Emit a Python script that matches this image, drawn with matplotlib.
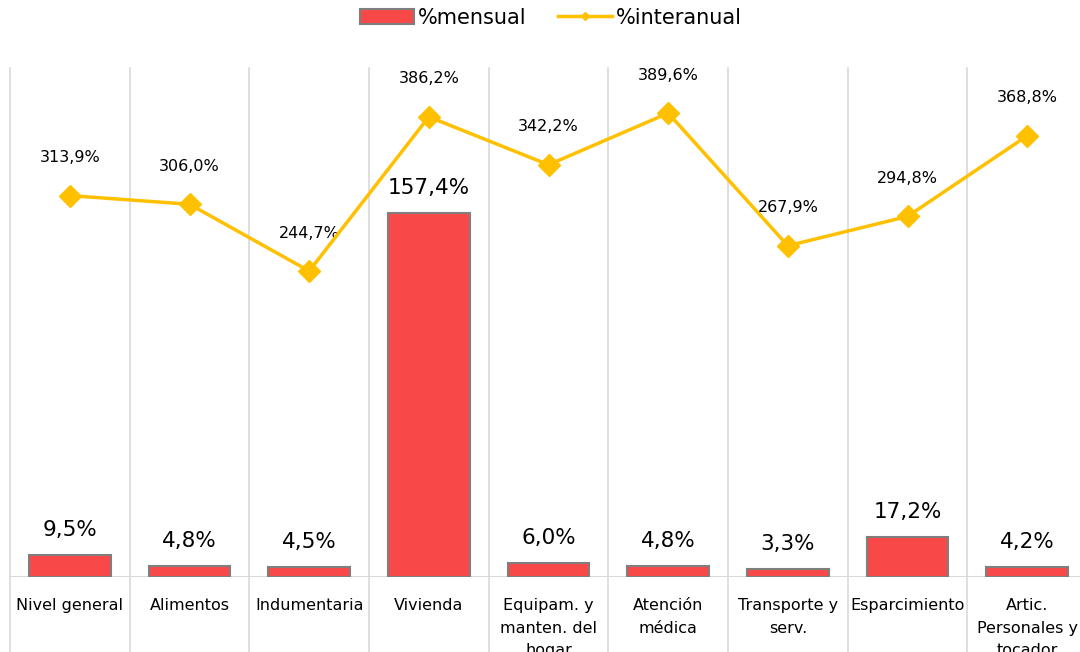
import matplotlib.pyplot as plt
from matplotlib.lines import Line2D
from matplotlib.patches import Patch

categorias = ["Nivel general", "Alimentos", "Indumentaria", "Vivienda",
              "Equipam. y\nmanten. del\nhogar", "Atención\nmédica",
              "Transporte y\nserv.", "Esparcimiento", "Artic.\nPersonales y\ntocador"]
mensual = [9.5, 4.8, 4.5, 157.4, 6.0, 4.8, 3.3, 17.2, 4.2]
interanual = [313.9, 306.0, 244.7, 386.2, 342.2, 389.6, 267.9, 294.8, 368.8]

rojo = "#F94848"
amarillo = "#FFC000"
gris = "#D9D9D9"


def fmt(v):
    return f"{v:.1f}%".replace(".", ",")


fig = plt.figure(figsize=(10.8, 6.52), dpi=100)
ax = fig.add_axes([10 / 1080, 75 / 652, 1077 / 1080, 509 / 652])
ax2 = ax.twinx()

x = list(range(len(categorias)))
ax.bar(x, mensual, width=0.68, color=rojo, edgecolor="#7F7F7F", linewidth=1.5, zorder=3)
ax.set_ylim(0, 220)
ax.set_xlim(-0.5, len(categorias) - 0.5)

for xi, v in zip(x, mensual):
    ax.annotate(fmt(v), (xi, v), xytext=(0, 25), textcoords="offset pixels",
                ha="center", va="center", fontsize=15.5, color="#000000")

ax2.plot(x, interanual, color=amarillo, linewidth=2.5, marker="D", markersize=11, zorder=4)
ax2.set_ylim(-36, 431)
for xi, v in zip(x, interanual):
    ax2.annotate(fmt(v), (xi, v), xytext=(0, 38), textcoords="offset pixels",
                 ha="center", va="center", fontsize=11.5, color="#000000")

# lineas verticales entre categorias
for b in range(len(categorias) + 1):
    ax.axvline(b - 0.5, ymin=-75 / 509, ymax=1, color=gris, linewidth=1.2,
               clip_on=False, zorder=1)
ax.axhline(0, color=gris, linewidth=1.5, zorder=2)

for a in (ax, ax2):
    for s in a.spines.values():
        s.set_visible(False)
    a.set_yticks([])
ax.set_xticks(x)
ax.set_xticklabels(categorias, fontsize=11.5, linespacing=1.65, va="top")
ax.tick_params(axis="x", length=0, pad=15)

handles = [Patch(facecolor=rojo, edgecolor="#7F7F7F", linewidth=1.5),
           Line2D([0], [0], color=amarillo, linewidth=2.5, marker="D", markersize=4)]
fig.legend(handles, ["%mensual", "%interanual"], loc="center", bbox_to_anchor=(0.51, 0.973),
           ncol=2, frameon=False, fontsize=15, handlelength=2.6, columnspacing=1.5,
           handletextpad=0.2)

fig.savefig("out.png", dpi=100)
